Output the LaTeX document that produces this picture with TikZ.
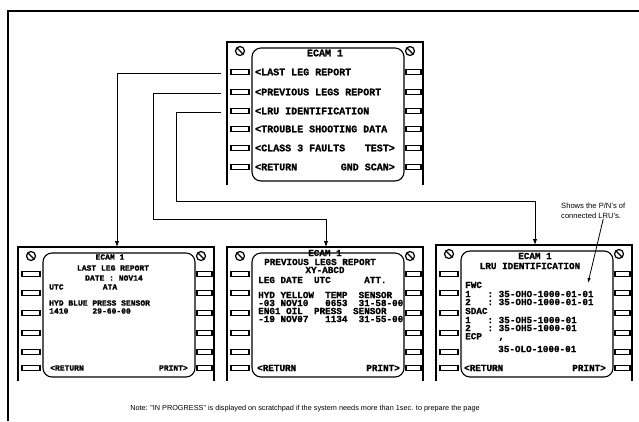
\documentclass[tikz,border=0pt]{standalone}
\usepackage{fontspec}
\setmainfont{Liberation Sans}
\newfontfamily\lcdfont{Liberation Mono}[UprightFont=* Bold, FakeBold=1.2]
\usetikzlibrary{arrows.meta}

\tikzset{
  frameline/.style={line width=1.3pt},
  screenline/.style={line width=1.1pt, rounded corners=9pt},
  keybox/.style={line width=1.5pt},
  screw/.style={line width=1.2pt},
  link/.style={line width=1pt, -{Latex[length=6pt,width=4.5pt]}},
  pointer/.style={line width=0.8pt, -{Latex[length=5pt,width=3.5pt]}},
  lcd/.style={inner sep=0pt, font=\fontsize{9.3}{9.3}\selectfont\lcdfont},
  note/.style={inner sep=0pt, font=\fontsize{7.3}{9.5}\selectfont}
}

% ECAM panel: name, left x, top y, bottom y, key rows
\newcommand{\ecampanel}[5]{%
  \begin{scope}[shift={(#2,#3)}]
    \draw[frameline] (0,#4-#3) -- (0,0) -- (196,0) -- (196,#4-#3);
    \draw[line width=2pt] (0,0) -- (196,0);
    \draw[screenline] (25,6) rectangle (177,#4-#3-4);
    \foreach \sx in {13,183} {
      \draw[screw] (\sx,9) circle[radius=4.5pt];
      \draw[screw] (\sx-3.2,5.8) -- (\sx+3.2,12.2);
    }
    \foreach \ky in {#5} {
      \draw[keybox] (4,\ky-#3-2.5) rectangle ++(18,5);
      \draw[keybox] (179,\ky-#3-2.5) rectangle ++(15,5);
    }
    \coordinate (#1) at (99,0);
  \end{scope}}

\begin{document}
\begin{tikzpicture}[x=1pt, y=-1pt]
  \useasboundingbox (0,0) rectangle (639,421);
  \draw[line width=1.2pt] (8,421) -- (8,11) -- (639,11);

  \ecampanel{menu}{227}{42}{185}{72,92,111,129,148,167}
  \ecampanel{llr}{18}{247}{381}{274,293,313,333,352,368}
  \ecampanel{plr}{227}{247}{381}{274,293,313,333,352,368}
  \ecampanel{lru}{436}{245}{381}{274,293,313,333,352,368}

  % Menue
  \begin{scope}[nodes={lcd, font=\fontsize{10}{10}\selectfont\lcdfont}]
    \node (menu-title) at (325,53) {ECAM 1};
    \node[anchor=west] (menu-r1) at (255,72) {<LAST LEG REPORT};
    \node[anchor=west] (menu-r2) at (255,92) {<PREVIOUS LEGS REPORT};
    \node[anchor=west] (menu-r3) at (255,111) {<LRU IDENTIFICATION};
    \node[anchor=west] (menu-r4) at (255,129) {<TROUBLE SHOOTING DATA};
    \node[anchor=west] (menu-r5) at (255,148) {<CLASS 3 FAULTS};
    \node[anchor=east] (menu-test) at (395,148) {TEST>};
    \node[anchor=west] (menu-ret) at (255,167) {<RETURN};
    \node[anchor=east] (menu-gnd) at (395,167) {GND SCAN>};
  \end{scope}

  % Last leg report
  \begin{scope}[nodes={lcd, font=\fontsize{8}{8}\selectfont\lcdfont}]
    \node (llr-title) at (110,257) {ECAM 1};
    \node (llr-head) at (113,268) {LAST LEG REPORT};
    \node (llr-date) at (114,278) {DATE : NOV14};
    \node[anchor=west] (llr-utc) at (49,287) {UTC};
    \node (llr-ata) at (110,287) {ATA};
    \node[anchor=west] (llr-msg) at (49,303) {HYD BLUE PRESS SENSOR};
    \node[anchor=west] (llr-data) at (49,311) {1410~~~~~29-60-00};
    \node[anchor=west] (llr-ret) at (50,368) {<RETURN};
    \node[anchor=east] (llr-prt) at (188,368) {PRINT>};
  \end{scope}

  % Previous legs report
  \begin{scope}[nodes=lcd]
    \node (plr-title) at (325,253) {ECAM 1};
    \node (plr-head) at (320,262) {PREVIOUS LEGS REPORT};
    \node (plr-reg) at (325,270) {XY-ABCD};
    \node[anchor=west] (plr-cols) at (258,280) {LEG~DATE~~UTC~~~~~~ATT.};
    \node[anchor=west] (plr-m1) at (258,295) {HYD~YELLOW~~TEMP~~SENSOR};
    \node[anchor=west] (plr-d1) at (258,303) {-03~NOV10~~~0653~~31-58-00};
    \node[anchor=west] (plr-m2) at (258,311) {ENG1~OIL~~PRESS~~SENSOR};
    \node[anchor=west] (plr-d2) at (258,319) {-19~NOV07~~~1134~~31-55-00};
    \node[anchor=west] (plr-ret) at (257,368) {<RETURN};
    \node[anchor=east] (plr-prt) at (400,368) {PRINT>};
  \end{scope}

  % LRU identification
  \begin{scope}[nodes=lcd]
    \node (lru-title) at (535,256) {ECAM 1};
    \node (lru-head) at (530,266) {LRU IDENTIFICATION};
    \node[anchor=west] (lru-fwc) at (465,285) {FWC};
    \node[anchor=west] (lru-f1) at (465,294) {1~~~:~35-OHO-1000-01-01};
    \node[anchor=west] (lru-f2) at (465,302) {2~~~:~35-OHO-1000-01-01};
    \node[anchor=west] (lru-sdac) at (465,311) {SDAC};
    \node[anchor=west] (lru-s1) at (465,320) {1~~~:~35-OH5-1000-01};
    \node[anchor=west] (lru-s2) at (465,328) {2~~~:~35-OH5-1000-01};
    \node[anchor=west] (lru-ecp) at (465,337) {ECP~~~,};
    \node[anchor=west] (lru-e1) at (498,349) {35-OLO-1000-01};
    \node[anchor=west] (lru-ret) at (464,368) {<RETURN};
    \node[anchor=east] (lru-prt) at (606,368) {PRINT>};
  \end{scope}

  % Verbindungen
  \coordinate (lastrow) at (221,73);
  \coordinate (prevrow) at (221,93);
  \coordinate (lrurow) at (221,112);
  \coordinate (prevbend) at (153,219);
  \coordinate (lrubend) at (176,201);
  \draw[link] (lastrow) -| (llr);
  \draw[link] (prevrow) -| (prevbend) -| (plr);
  \draw[link] (lrurow) -| (lrubend) -| (lru);

  \node[note, anchor=north west, align=left, font=\fontsize{7.6}{10}\selectfont] (lru-note) at (561,203) {Shows the P/N's of\\connected LRU's.};
  \coordinate (lru-tip) at (588,283);
  \draw[pointer] ([xshift=10pt]lru-note.south) -- (lru-tip);

  \node[note] (footnote) at (305,409) {Note: "IN PROGRESS" is displayed on scratchpad if the system needs more than 1sec. to prepare the page};
\end{tikzpicture}
\end{document}
